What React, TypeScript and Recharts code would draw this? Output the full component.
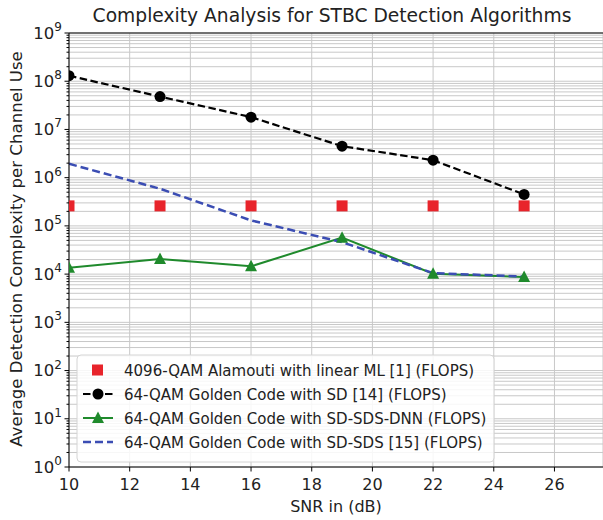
import React from 'react';
import { ComposedChart, Line, XAxis, YAxis, CartesianGrid, ReferenceLine } from 'recharts';

const snrDb = [10, 13, 16, 19, 22, 25];
const alamoutiLinearML = [2.6e5, 2.6e5, 2.6e5, 2.6e5, 2.6e5, 2.6e5];
const goldenSD = [1.3e8, 4.8e7, 1.8e7, 4.5e6, 2.3e6, 4.5e5];
const goldenSdsDnn = [1.36e4, 2.05e4, 1.45e4, 5.7e4, 1.02e4, 8.7e3];
const goldenSds = [1.94e6, 5.9e5, 1.3e5, 4.6e4, 1.05e4, 8.9e3];

const xTicks = [10, 12, 14, 16, 18, 20, 22, 24, 26];
const yMajorTicks = [1, 10, 100, 1e3, 1e4, 1e5, 1e6, 1e7, 1e8, 1e9];
const yMinorFactors = [2, 3, 4, 5, 6, 7, 8, 9];

const labels = [
  '4096-QAM Alamouti with linear ML [1] (FLOPS)',
  '64-QAM Golden Code with SD [14] (FLOPS)',
  '64-QAM Golden Code with SD-SDS-DNN (FLOPS)',
  '64-QAM Golden Code with SD-SDS [15] (FLOPS)',
];

const data = snrDb.map((x, i) => ({
  snr: x,
  ml: alamoutiLinearML[i],
  sd: goldenSD[i],
  dnn: goldenSdsDnn[i],
  sds: goldenSds[i],
}));

const allYTicks: number[] = [];
yMajorTicks.forEach((m, i) => {
  allYTicks.push(m);
  if (i < yMajorTicks.length - 1) yMinorFactors.forEach((f) => allYTicks.push(m * f));
});

const FONT = 'DejaVu Sans';
const RED = '#e8242b';
const GREEN = '#1f8a2c';
const BLUE = '#3b4db3';

const YTick = (props: any) => {
  const { x, y, payload } = props;
  const v = payload.value;
  const lg = Math.log10(v);
  const exp = Math.round(lg);
  const major = Math.abs(lg - exp) < 1e-6;
  return (
    <g>
      <line x1={x - (major ? 4.5 : 2.5)} x2={x} y1={y} y2={y} stroke="#000" strokeWidth={1} />
      {major && (
        <text x={x - 7} y={y + 5.5} textAnchor="end" fontFamily={FONT} fontSize={16.5} fill="#222">
          10
          <tspan dy={-7.5} fontSize={12}>{exp}</tspan>
        </text>
      )}
    </g>
  );
};

const XTick = (props: any) => {
  const { x, y, payload } = props;
  return (
    <g>
      <line x1={x} x2={x} y1={y} y2={y + 4.5} stroke="#000" strokeWidth={1} />
      <text x={x} y={y + 23} textAnchor="middle" fontFamily={FONT} fontSize={16} fill="#222">
        {payload.value}
      </text>
    </g>
  );
};

const Square = (p: any) =>
  p.cx == null ? <g key={p.key} /> : <rect key={p.key} x={p.cx - 5.5} y={p.cy - 5.5} width={11} height={11} fill={RED} />;
const Circle = (p: any) =>
  p.cx == null ? <g key={p.key} /> : <circle key={p.key} cx={p.cx} cy={p.cy} r={5.5} fill="#000" />;
const Tri = (p: any) =>
  p.cx == null ? (
    <g key={p.key} />
  ) : (
    <polygon key={p.key} points={`${p.cx},${p.cy - 6.5} ${p.cx - 6},${p.cy + 5} ${p.cx + 6},${p.cy + 5}`} fill={GREEN} />
  );

export default function App() {
  const lx = 77;
  const ly = 355;
  const rowY = [370, 394, 418, 442];
  return (
    <div style={{ position: 'absolute', left: 0, top: 0, width: 603, height: 520, background: '#fff' }}>
      <ComposedChart
        width={603}
        height={520}
        data={data}
        margin={{ top: 33, right: 0, bottom: 0, left: 0 }}
      >
        <CartesianGrid stroke="#c8c8c8" strokeWidth={1} horizontal vertical />
        <XAxis
          dataKey="snr"
          type="number"
          domain={[10, 27.6]}
          ticks={xTicks}
          allowDataOverflow
          height={53}
          stroke="#000"
          tickLine={false}
          tick={<XTick />}
          tickSize={0}
          tickMargin={0}
        />
        <YAxis
          type="number"
          scale="log"
          domain={[1, 1e9]}
          ticks={allYTicks}
          allowDataOverflow
          width={69}
          stroke="#000"
          tickLine={false}
          tick={<YTick />}
          tickSize={0}
          tickMargin={0}
          interval={0}
        />
        <ReferenceLine y={1e9} stroke="#000" strokeWidth={1} />
        <Line dataKey="ml" stroke="none" isAnimationActive={false} dot={Square} activeDot={false} />
        <Line
          dataKey="sd"
          stroke="#000"
          strokeWidth={2.2}
          strokeDasharray="7.5 3.5"
          isAnimationActive={false}
          dot={Circle}
          activeDot={false}
        />
        <Line dataKey="dnn" stroke={GREEN} strokeWidth={2} isAnimationActive={false} dot={Tri} activeDot={false} />
        <Line
          dataKey="sds"
          stroke={BLUE}
          strokeWidth={2.5}
          strokeDasharray="8 4"
          isAnimationActive={false}
          dot={false}
          activeDot={false}
        />
      </ComposedChart>
      <svg
        width={603}
        height={520}
        style={{ position: 'absolute', left: 0, top: 0, pointerEvents: 'none' }}
      >
        <text x={332} y={22} textAnchor="middle" fontFamily={FONT} fontSize={18.7} fill="#222">
          Complexity Analysis for STBC Detection Algorithms
        </text>
        <text x={336} y={512} textAnchor="middle" fontFamily={FONT} fontSize={16} fill="#222">
          SNR in (dB)
        </text>
        <text
          x={0}
          y={0}
          transform="translate(22,249) rotate(-90)"
          textAnchor="middle"
          fontFamily={FONT}
          fontSize={16.6}
          fill="#222"
        >
          Average Detection Complexity per Channel Use
        </text>
        <rect x={lx} y={ly} width={417} height={107} rx={4} fill="#fff" fillOpacity={0.85} stroke="#d4d4d4" />
        <rect x={92} y={rowY[0] - 5.5} width={11} height={11} fill={RED} />
        <line x1={83} x2={113} y1={rowY[1]} y2={rowY[1]} stroke="#000" strokeWidth={2.2} strokeDasharray="7.5 3.5" />
        <circle cx={98} cy={rowY[1]} r={5.5} fill="#000" />
        <line x1={83} x2={113} y1={rowY[2]} y2={rowY[2]} stroke={GREEN} strokeWidth={2} />
        <polygon points={`98,${rowY[2] - 6.5} 92,${rowY[2] + 5} 104,${rowY[2] + 5}`} fill={GREEN} />
        <line x1={83} x2={113} y1={rowY[3]} y2={rowY[3]} stroke={BLUE} strokeWidth={2.5} strokeDasharray="8 4" />
        {labels.map((t, i) => (
          <text key={t} x={124} y={rowY[i] + 5.5} fontFamily={FONT} fontSize={15} fill="#222">
            {t}
          </text>
        ))}
      </svg>
    </div>
  );
}
